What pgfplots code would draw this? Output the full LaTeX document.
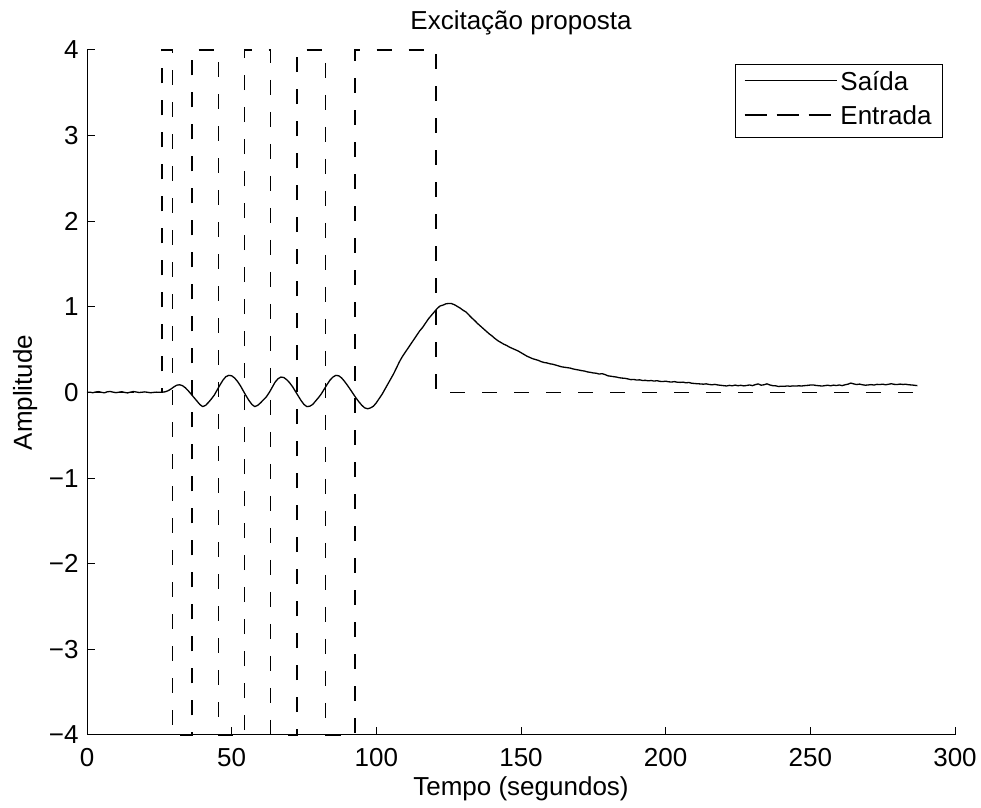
\documentclass[border=0pt]{standalone}
\usepackage{fontspec}
\setmainfont{Liberation Sans}
\usepackage{pgfplots}
\usepackage{pgfplotstable}
\pgfplotsset{compat=1.18}
\usetikzlibrary{calc}

% Plant response (Saida)
\pgfplotstableread{
t a
0 0.000
1 0.004
2 -0.003
3 0.006
4 0.010
5 0.002
6 -0.004
7 0.008
8 0.012
9 0.004
10 -0.002
11 0.003
12 0.009
13 0.001
14 -0.005
15 0.004
16 0.011
17 0.006
18 0.000
19 0.003
20 0.007
21 0.002
22 -0.003
23 0.001
24 0.004
25 0.002
26 0.003
27 0.008
28 0.020
29 0.040
30 0.065
31 0.085
32 0.090
33 0.080
34 0.055
35 0.020
36 -0.020
37 -0.060
38 -0.100
39 -0.140
40 -0.165
41 -0.150
42 -0.115
43 -0.075
44 -0.030
45 0.030
46 0.090
47 0.145
48 0.185
49 0.200
50 0.195
51 0.170
52 0.130
53 0.080
54 0.020
55 -0.040
56 -0.095
57 -0.140
58 -0.165
59 -0.150
60 -0.120
61 -0.085
62 -0.050
63 0.000
64 0.060
65 0.120
66 0.160
67 0.180
68 0.175
69 0.150
70 0.115
71 0.070
72 0.015
73 -0.040
74 -0.095
75 -0.140
76 -0.165
77 -0.160
78 -0.140
79 -0.100
80 -0.060
81 -0.015
82 0.040
83 0.095
84 0.145
85 0.180
86 0.200
87 0.195
88 0.170
89 0.130
90 0.085
91 0.035
92 -0.015
93 -0.065
94 -0.110
95 -0.150
96 -0.180
97 -0.190
98 -0.180
99 -0.160
100 -0.120
101 -0.070
102 -0.020
103 0.040
104 0.100
105 0.160
106 0.220
107 0.290
108 0.360
109 0.420
110 0.470
111 0.520
112 0.570
113 0.620
114 0.670
115 0.720
116 0.760
117 0.810
118 0.860
119 0.900
120 0.940
121 0.980
122 1.010
123 1.020
124 1.035
125 1.040
126 1.038
127 1.025
128 1.005
129 0.985
130 0.960
131 0.940
132 0.905
133 0.870
134 0.840
135 0.805
136 0.775
137 0.745
138 0.715
139 0.685
140 0.660
141 0.630
142 0.605
143 0.585
144 0.565
145 0.550
146 0.530
147 0.515
148 0.500
149 0.485
150 0.465
151 0.445
152 0.425
153 0.410
154 0.395
155 0.385
156 0.375
157 0.360
158 0.350
159 0.345
160 0.335
161 0.330
162 0.320
163 0.310
164 0.300
165 0.295
166 0.290
167 0.285
168 0.275
169 0.268
170 0.262
171 0.255
172 0.250
173 0.240
174 0.235
175 0.228
176 0.225
177 0.215
178 0.220
179 0.210
180 0.195
181 0.190
182 0.185
183 0.180
184 0.172
185 0.168
186 0.165
187 0.158
188 0.150
189 0.152
190 0.145
191 0.148
192 0.140
193 0.142
194 0.136
195 0.140
196 0.133
197 0.138
198 0.130
199 0.128
200 0.132
201 0.125
202 0.122
203 0.127
204 0.120
205 0.118
206 0.121
207 0.113
208 0.117
209 0.108
210 0.105
211 0.102
212 0.100
213 0.097
214 0.101
215 0.094
216 0.090
217 0.095
218 0.088
219 0.084
220 0.080
221 0.076
222 0.083
223 0.078
224 0.086
225 0.079
226 0.084
227 0.077
228 0.082
229 0.088
230 0.080
231 0.092
232 0.100
233 0.085
234 0.090
235 0.101
236 0.088
237 0.080
238 0.078
239 0.070
240 0.074
241 0.072
242 0.076
243 0.073
244 0.077
245 0.075
246 0.078
247 0.076
248 0.080
249 0.083
250 0.087
251 0.088
252 0.082
253 0.079
254 0.075
255 0.080
256 0.085
257 0.078
258 0.086
259 0.081
260 0.088
261 0.080
262 0.090
263 0.097
264 0.110
265 0.100
266 0.093
267 0.098
268 0.090
269 0.085
270 0.088
271 0.092
272 0.087
273 0.095
274 0.093
275 0.097
276 0.090
277 0.096
278 0.102
279 0.095
280 0.093
281 0.098
282 0.094
283 0.096
284 0.090
285 0.088
286 0.084
287 0.080
}\saida

% Proposed excitation signal (Entrada)
\pgfplotstableread{
t u
0 0
25.9 0
25.9 4
29.5 4
29.5 -4
36.3 -4
36.3 4
45.4 4
45.4 -4
54.5 -4
54.5 4
63.5 4
63.5 -4
72.5 -4
72.5 4
82.5 4
82.5 -4
92.7 -4
92.7 4
120.7 4
120.7 0
286.5 0
}\entrada

\newcommand{\chartfont}{\fontsize{13}{15.6}\selectfont}

\begin{document}
\begin{tikzpicture}
\begin{axis}[
  scale only axis,
  width=434pt, height=342.5pt,
  xmin=0, xmax=300, ymin=-4, ymax=4,
  clip=false,
  axis lines=left,
  axis line style={-, line width=0.5pt},
  tick align=inside,
  major tick length=4pt,
  tick style={black, line width=0.5pt},
  xtick={0,50,100,150,200,250,300},
  xticklabels={0,50,100,150,200,250,300},
  ytick={-4,-3,-2,-1,0,1,2,3,4},
  yticklabels={−4,−3,−2,−1,0,1,2,3,4},
  font=\chartfont,
  ticklabel style={font=\chartfont},
  xticklabel style={anchor=base, inner sep=0pt, yshift=-16pt},
  yticklabel style={anchor=east, inner sep=0pt, xshift=-4pt},
  title={Excitação proposta},
  title style={at={(axis description cs:0.5,1)}, anchor=base, yshift=4pt, inner sep=0pt, font=\chartfont},
  xlabel={Tempo (segundos)},
  xlabel style={at={(axis description cs:0.5,0)}, anchor=base, yshift=-30.5pt, inner sep=0pt, font=\chartfont},
  ylabel={Amplitude},
  ylabel style={at={(axis description cs:-0.0634,0.5)}, anchor=base, inner sep=0pt, font=\chartfont},
  legend cell align=left,
  legend image code/.code={
    \draw[#1] (0pt,1.5pt) -- (40pt,1.5pt);
    \path (-3.5pt,1.5pt) -- (42.5pt,1.5pt);
  },
  legend style={
    at={(axis description cs:1,1)}, anchor=north east,
    xshift=-6pt, yshift=-7pt,
    draw=black, line width=0.5pt,
    font=\chartfont,
    inner xsep=4pt, inner ysep=2pt,
    row sep=2pt,
    nodes={inner sep=1.5pt, text height=9.4pt, text depth=2.8pt},
  },
]
\addplot[black, line width=0.65pt, line join=round] table[x=t, y=a] {\saida};
\addlegendentry{Saída}
\addplot[black, line width=0.75pt, dash pattern=on 7.5pt off 8.5pt] table[x=t, y=u] {\entrada};
\addlegendentry{Entrada}
\end{axis}
\pgfresetboundingbox
\path[use as bounding box]
  ($(current axis.south west)+(-43.5pt,-36.5pt)$) rectangle
  ($(current axis.north east)+(13pt,25pt)$);
\end{tikzpicture}
\end{document}
